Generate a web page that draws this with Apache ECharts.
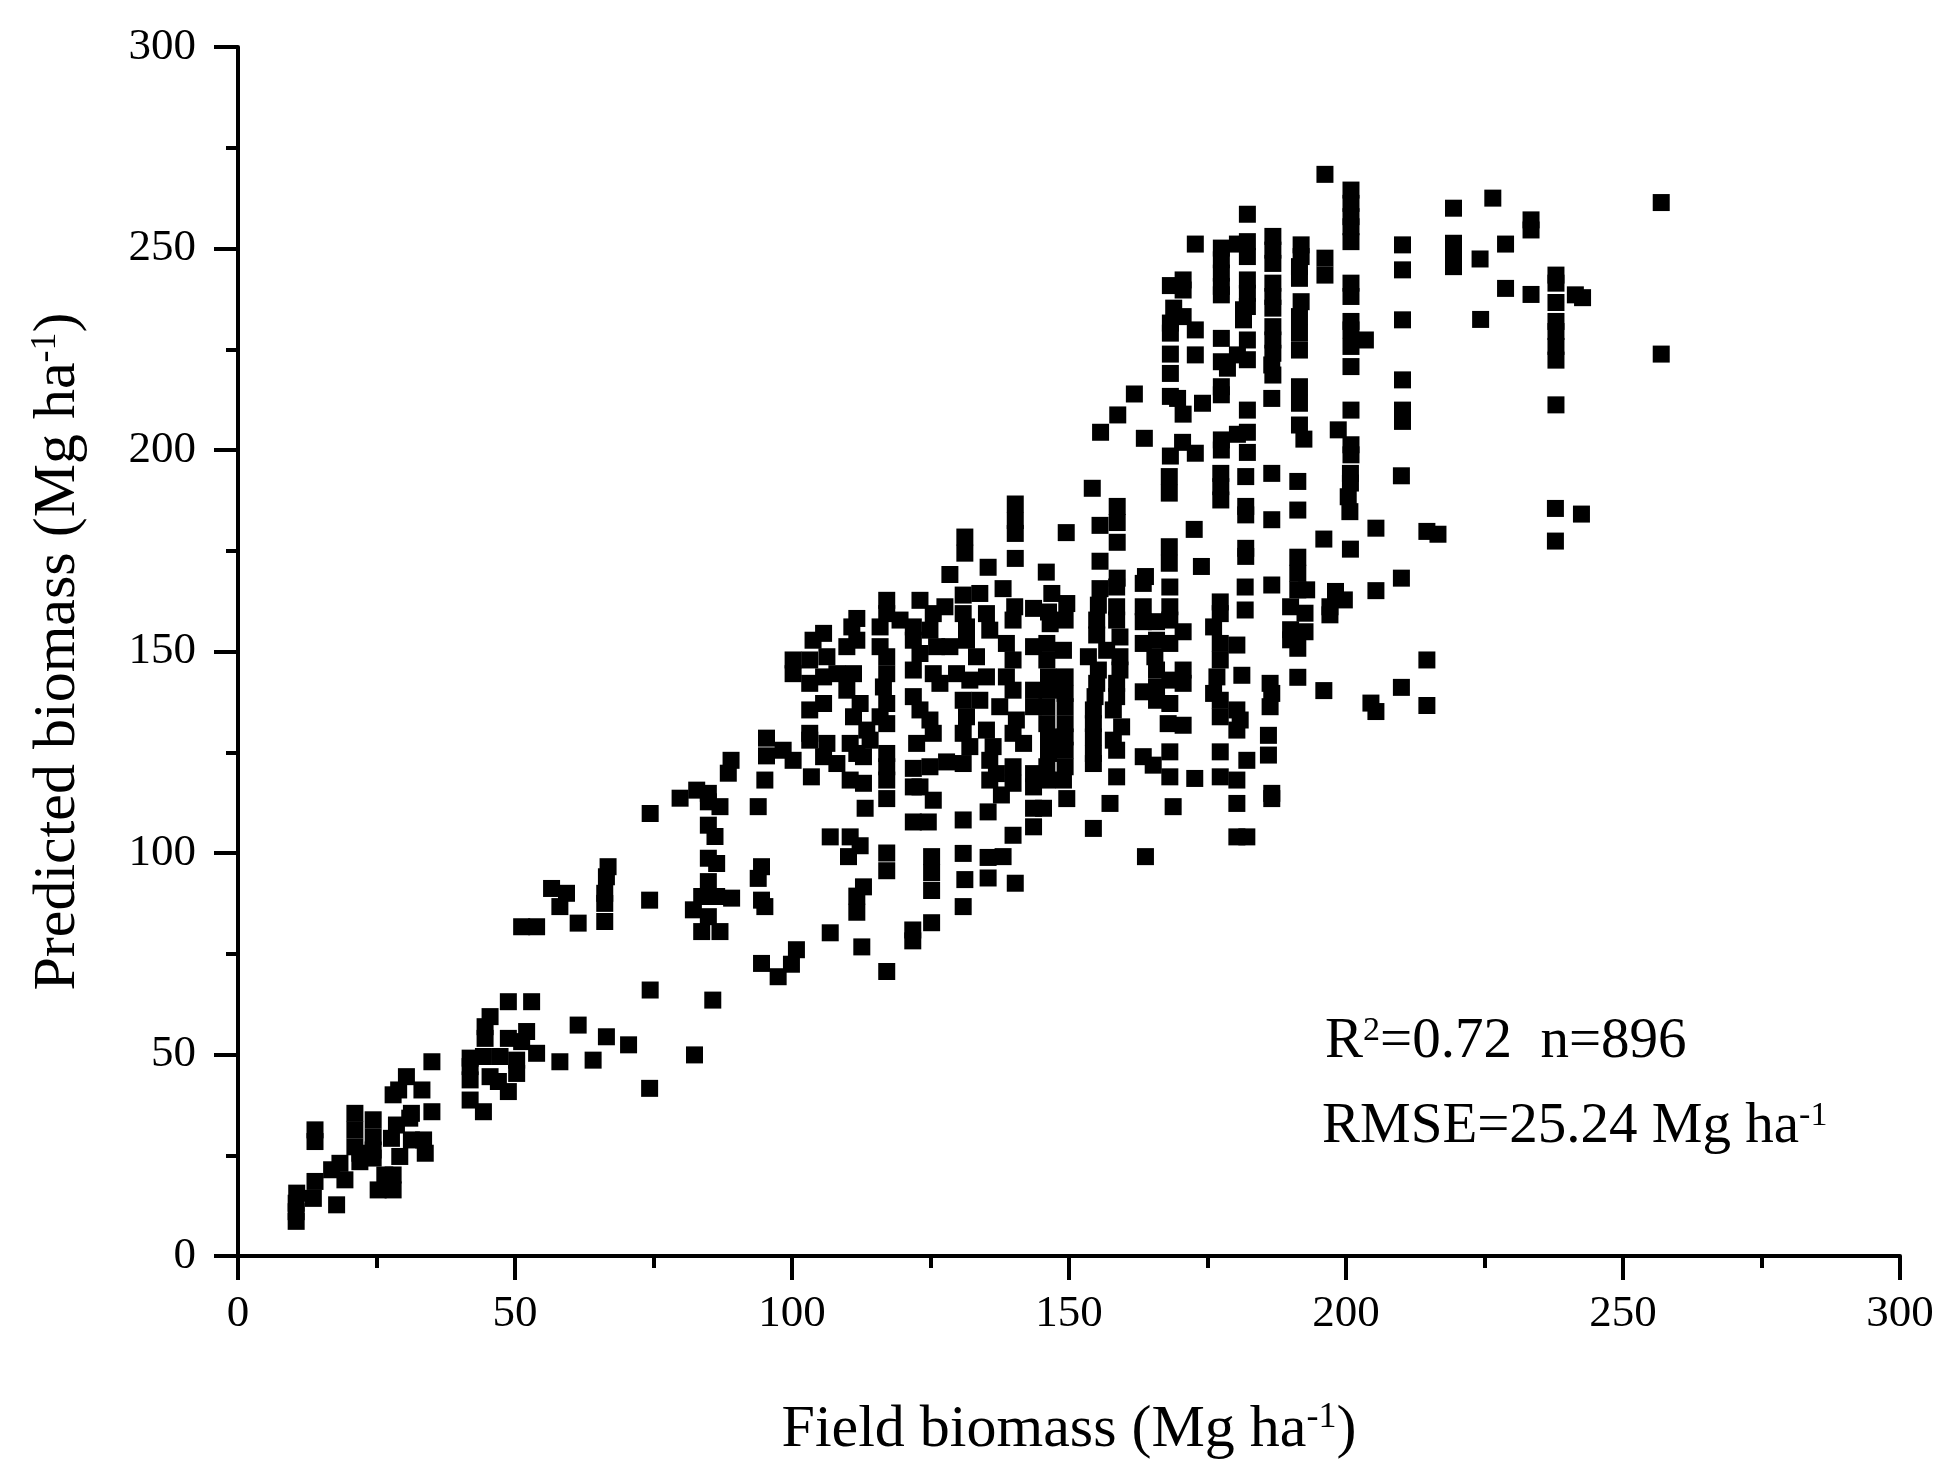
<!DOCTYPE html>
<html>
<head>
<meta charset="utf-8">
<title>Field vs predicted biomass</title>
<script src="https://cdn.jsdelivr.net/npm/echarts@6/dist/echarts.min.js"></script>
<style>
html, body { margin: 0; padding: 0; background: #fff; }
#chart { width: 1959px; height: 1477px; }
</style>
</head>
<body>
<div id="chart"></div>
<script>
// field biomass (x) vs predicted biomass (y), Mg ha-1
var pointsLow = [
  [10.5,8.6],[10.5,11.0],[10.5,13.1],[10.6,15.6],[13.6,14.3],[13.9,18.5],[13.9,31.3],[13.9,28.4],[17.8,12.7],[16.9,21.4],[19.3,18.9],
  [18.4,23.0],[21.1,35.4],[21.1,31.3],[21.1,27.1],[22.0,23.4],[22.0,25.5],[24.4,33.8],[24.4,29.6],[24.4,26.3],[24.4,24.3],
  [25.3,16.4],[26.5,20.1],[28.0,16.4],[28.0,20.1],[27.7,29.2],[28.6,32.5],[29.2,24.7],[28.0,40.0],[30.4,44.5],[31.0,34.2],
  [31.3,35.4],[31.3,28.8],[33.5,28.8],[33.8,25.5],[33.2,41.2],[29.0,41.2],[35.0,48.2],[35.0,35.8],
  [41.9,38.7],[41.9,43.7],[41.9,49.1],[41.9,47.0],[44.3,35.8],[45.5,59.4],[44.6,56.9],[44.6,54.0],[44.3,49.5],[45.5,44.5],
  [47.0,43.3],[47.3,49.5],[48.8,63.1],[48.8,54.0],[48.8,40.8],[50.3,48.6],[50.3,45.3],[52.1,55.7],[51.2,53.2],[53.0,63.1],
  [53.9,50.3],[58.1,48.2],[61.4,57.3],[64.1,48.6],[66.5,54.4],[70.5,52.4],[74.4,66.0],[74.3,41.6],[82.4,49.9],[85.7,63.5],
  [94.5,72.6],[97.5,69.3],
  [51.2,81.7],[53.9,81.7],[56.6,91.2],[59.3,90.0],[58.1,86.7],[61.4,82.6],[66.8,96.6],[66.5,94.1],[66.2,90.0],[66.2,87.5],
  [66.2,83.0],[74.4,109.8],[74.3,88.3],[79.8,113.6],[82.8,115.6],[84.9,114.8],[84.9,112.7],[87.0,111.5],[84.9,106.9],[86.1,104.1],
  [84.9,98.7],[86.4,97.4],[84.9,92.9],[83.7,89.2],[86.4,89.2],[89.1,88.8],[82.2,85.9],[84.9,84.2],[83.7,80.5],[87.0,80.5],
  [88.5,119.8],[93.9,111.5],[95.1,118.1],[94.5,96.6],[93.9,93.7],[94.5,88.3],[95.1,86.7],[89.0,123.0]
];

var pointsMid = [
  [154.2,190.5],[140.3,186.6],[140.3,182.5],[140.3,179.3],[140.3,173.1],[158.7,186.0],[158.7,182.0],[155.6,181.3],[158.7,177.1],[149.5,179.5],
  [131.2,178.4],[131.2,174.4],[135.4,170.9],[128.5,169.1],[145.9,169.7],[155.6,172.4],[158.7,168.2],
  [95.4,128.5],[95.4,124.1],
  [110.2,99.1],[112.3,101.8],[117.1,100.0],[117.1,95.6],[125.2,99.1],[125.2,95.1],[130.9,99.9],[135.4,98.9],[138.1,99.1],[131.2,93.4],
  [135.4,93.8],[140.3,92.5],[112.9,91.6],[111.7,89.3],[111.7,85.3],[125.2,90.7],[130.9,86.7],[125.2,82.7],[106.9,80.2],[121.8,80.9],
  [121.8,78.2],[112.6,76.7],[100.8,76.0],[99.9,72.4],[117.1,70.6]
];

var pointsDenseA = [
  [117.1,162.7],[123.1,162.7],[127.6,161.1],[130.9,164.0],[133.9,164.4],[138.1,165.6],[140.2,161.1],
  [111.7,158.2],[110.8,156.1],[117.1,159.4],[115.9,156.1],[119.5,157.8],[121.9,156.1],[125.5,159.4],[124.9,155.3],[130.9,159.4],
  [131.5,156.1],[135.1,159.4],[135.7,155.3],[139.9,157.8],[143.6,160.7],
  [103.8,152.8],[105.7,154.5],[103.2,147.9],[106.3,148.7],[109.9,151.2],[111.7,152.8],[115.9,151.2],[117.1,148.7],[121.9,152.8],[123.1,149.5],
  [126.1,151.2],[128.5,151.2],[131.5,152.8],[133.3,148.7],[138.7,152.0],[139.9,147.9],[100.2,147.9],[143.6,151.2],
  [100.2,144.5],[103.2,142.1],[105.7,143.7],[108.1,144.5],[111.1,144.5],[109.9,140.4],[117.1,144.5],[116.5,141.2],[121.9,145.4],[125.5,144.5],
  [126.7,142.1],[129.7,144.5],[132.1,142.9],[135.1,143.7],[138.7,143.7],[139.9,140.4],[143.6,140.4],
  [103.2,135.5],[105.7,137.1],[112.3,137.1],[111.1,133.8],[117.1,137.1],[115.9,133.8],[121.9,138.8],[123.1,135.5],[124.9,133.0],[130.9,137.9],
  [131.5,133.8],[133.9,137.9],[137.5,136.3],[140.5,133.0],[143.6,136.3],
  [103.2,129.7],[103.2,128.0],[106.3,127.2],[110.5,127.2],[113.5,130.5],[114.1,128.0],[117.1,132.1],[122.5,127.2],[125.5,129.7],[130.9,129.7],
  [132.1,126.4],[135.1,130.5],[136.3,126.4],[139.9,129.7],[141.8,127.2],
  [98.4,125.5],[100.2,123.0],[105.7,123.9],[108.1,122.2],[111.7,124.7],[112.9,123.9],[117.1,124.7],[117.1,121.4],[121.9,121.0],[124.9,121.4],
  [127.9,122.6],[130.9,122.2],[135.7,123.0],[136.9,119.7],[139.9,121.4],[143.6,119.7],
  [103.5,118.9],[110.5,118.1],[112.9,117.3],[117.1,118.1],[121.9,116.4],[123.1,116.4],[135.7,118.1],[139.9,117.3],[143.6,116.4],
  [117.1,113.5],[125.5,113.1],[137.8,114.4],[113.2,111.1],[143.6,111.1],[135.4,110.2],[121.9,107.7],[124.6,107.7],[130.9,108.2],[143.6,106.5],
  [106.9,104.0],[110.5,104.0],[139.9,104.4]
];

var pointsDenseB = [
  [146.9,164.4],[149.6,161.9],[146.3,159.8],[149.3,157.8],[146.6,156.9],
  [146.0,152.0],[149.0,150.3],[146.0,147.9],[146.3,143.7],[149.3,143.7],[146.3,140.4],[149.3,139.6],[146.0,136.3],[149.3,136.3],[146.0,132.1],
  [149.3,132.1],[146.3,128.8],[149.3,128.8],[146.3,124.7],[149.3,125.5],[146.0,121.4],[149.3,121.4],[146.0,118.1],[149.0,118.1],
  [149.6,113.5],[145.4,111.1],
  [155.6,165.6],[158.6,166.0],[155.3,161.5],[158.6,161.1],[155.0,157.8],[158.6,157.8],[155.0,154.1],[159.2,153.6],[153.5,148.7],[156.8,150.3],
  [159.2,148.7],[155.3,145.4],[159.2,145.4],[155.0,142.1],[158.6,142.1],[154.7,138.8],[158.6,138.8],[154.4,135.5],[158.0,135.5],[154.4,132.1],
  [159.5,131.3],[154.4,128.8],[158.0,128.0],[154.4,124.7],[158.6,125.5],[154.4,122.2],
  [158.6,118.9],[157.4,112.3],[154.4,106.1],
  [163.4,166.9],[168.2,166.0],[163.4,161.1],[168.2,161.1],[163.4,157.4],[165.8,157.4],[168.2,157.8],[170.6,154.9],[163.4,152.0],[165.8,152.8],
  [168.2,152.0],[165.5,148.7],[165.8,145.4],[170.6,145.4],[163.4,140.0],[165.8,141.2],[168.2,142.9],[170.6,142.1],[165.8,137.9],[168.2,137.1],
  [167.9,132.1],[170.6,131.7],[163.4,123.9],[165.2,121.8],[168.2,125.1],[168.2,118.9],[172.7,118.5],[168.8,111.5],
  [177.3,162.3],[177.3,159.4],[176.1,156.1],[177.3,152.0],[177.3,147.9],[176.7,143.7],[176.1,139.6],[177.3,137.9],[177.3,133.8],[180.3,151.6],
  [180.3,135.5],[180.9,133.0],[180.3,130.5],[177.3,125.1],[177.3,118.9],[180.3,118.1],[180.3,112.3],[180.3,104.0],[182.1,104.0],
  [181.8,166.0],[181.8,160.3],[181.2,144.1],[182.1,123.0],
  [186.6,166.5],[186.3,142.1],[186.6,139.6],[186.3,136.3],[186.0,129.2],[186.0,124.3],[186.6,114.8],[186.6,113.5]
];

var pointsRight = [
  [168.1,189.3],[168.1,193.4],[177.4,194.2],[177.4,190.9],[177.4,187.6],[181.9,193.4],[186.6,194.2],[191.3,192.2],[210.0,193.6],[200.8,194.2],
  [200.8,191.8],[200.4,188.4],[200.7,184.7],[181.9,186.0],[181.9,183.9],[186.6,182.7],[191.3,185.1],[172.6,180.3],[196.0,177.9],[200.8,175.4],
  [205.4,180.6],[214.6,179.8],[216.6,179.1],[237.8,185.5],[242.5,184.1],[237.8,177.4],[168.1,176.0],[168.1,171.9],[173.9,171.1],[163.8,168.6],
  [181.9,175.6],[181.9,173.6],[191.3,173.4],[191.3,169.4],[210.0,168.2],
  [205.4,165.1],[191.3,165.3],[192.9,165.3],[198.1,164.9],[199.7,162.8],[197.1,161.1],[197.1,159.1],[190.0,161.1],[192.6,159.5],[190.0,155.4],
  [192.6,154.9],[190.0,152.9],[191.3,150.8],[191.3,143.6],[196.0,140.3],[204.5,137.2],[205.4,135.1],[210.0,141.1],[214.6,147.9],[214.6,136.6],
  [163.8,99.1]
];

var pointsHigh = [
  [196.2,268.4],[200.9,264.5],[200.9,261.2],[200.9,257.9],[200.9,255.4],[200.9,251.7],[226.5,262.5],[219.4,260.0],[256.9,261.4],[182.2,258.5],
  [233.4,257.1],[233.4,254.6],[172.8,251.1],[177.5,250.1],[177.5,247.2],[177.5,243.9],[177.5,240.6],[177.5,238.5],[180.4,251.1],[182.2,251.7],
  [182.2,248.0],[186.8,253.0],[186.8,249.6],[186.8,246.3],[191.9,250.9],[191.9,248.0],[191.6,245.5],[191.6,242.6],[196.2,247.6],[196.2,243.4],
  [210.2,250.9],[210.2,244.7],[219.4,251.3],[219.4,248.0],[219.4,245.5],[228.8,251.1],[224.2,247.4],[237.9,243.4],[237.9,241.4],[228.8,240.1],
  [233.4,238.6],[237.9,236.6],[241.4,238.5],[242.7,237.8],[168.3,240.8],[170.6,242.2],[170.6,239.7],[182.2,242.2],[182.2,238.9],[182.2,235.6],
  [186.8,241.4],[186.8,238.1],[186.8,235.2],[200.9,241.4],[200.9,238.1],[191.9,236.8],[191.6,233.1],[168.9,235.2],[170.6,233.1],[168.3,231.5],
  [168.3,229.0],[172.8,229.8],[181.5,234.8],[181.5,232.3],[177.5,227.7],[182.2,227.3],[186.8,230.6],[186.8,227.3],[186.8,224.0],[191.6,229.0],
  [191.6,224.8],[200.9,231.9],[200.9,229.8],[203.5,227.3],[200.9,225.7],[210.2,232.3],[224.3,232.4],[237.9,231.9],[237.9,229.4],[237.9,225.7],
  [237.9,222.3],[256.9,223.8],[168.3,223.8],[172.8,223.6],[180.4,223.6],[182.2,222.4],[177.5,221.9],[178.6,220.3],[186.6,221.1],[186.8,218.6],
  [200.9,220.7],[168.3,219.0],[210.2,217.4],[161.8,213.9],[168.3,213.3],[169.6,212.8],[174.1,211.6],[177.5,215.7],[177.5,213.7],[186.6,212.8],
  [191.6,215.7],[191.6,211.6],[237.9,211.2],[158.8,208.7],[170.6,208.9],[182.2,209.9],[200.9,209.9],[210.2,209.9],[210.2,207.1],[155.7,204.4],
  [163.6,202.9],[170.5,201.9],[177.5,202.5],[177.5,200.0],[180.4,203.9],[182.2,204.4],[182.2,199.4],[172.8,199.2],[168.3,198.5],[191.6,206.2],
  [192.4,202.7],[198.6,205.0],[200.9,201.3],[200.9,198.8]
];

var xTicks = {min: 0, max: 300, step: 50};
var yTicks = {min: 0, max: 300, step: 50};

var serif = '"Liberation Serif", "Times New Roman", serif';

var myChart = echarts.init(document.getElementById('chart'));

//正文 + 上标
function titleRich(size){
    return {
        t: {fontFamily: serif, fontSize: size, color: '#000', lineHeight: size},
        s: {fontFamily: serif, fontSize: Math.round(size * 0.6), color: '#000', lineHeight: Math.round(size * 0.6), verticalAlign: 'top'}
    };
}

var lineStyle = {color: '#000', width: 4};

var option = {
    animation: false,
    backgroundColor: '#fff',
    grid: {left: 238, right: 59, top: 47, bottom: 221},
    xAxis: {
        type: 'value',
        min: xTicks.min,
        max: xTicks.max,
        interval: xTicks.step,
        name: '{t|Field biomass (Mg ha}{s|-1}{t|)}',
        nameLocation: 'middle',
        nameGap: 144,
        nameTextStyle: {rich: titleRich(60)},
        axisLine: {show: true, onZero: false, lineStyle: lineStyle},
        axisTick: {show: true, inside: false, length: 24, lineStyle: lineStyle},
        minorTick: {show: true, splitNumber: 2, length: 12, lineStyle: lineStyle},
        splitLine: {show: false},
        axisLabel: {fontFamily: serif, fontSize: 45, color: '#000', margin: 36}
    },
    yAxis: {
        type: 'value',
        min: yTicks.min,
        max: yTicks.max,
        interval: yTicks.step,
        name: '{t|Predicted biomass (Mg ha}{s|-1}{t|)}',
        nameLocation: 'middle',
        nameGap: 150,
        nameTextStyle: {rich: titleRich(60)},
        axisLine: {show: true, onZero: false, lineStyle: lineStyle},
        axisTick: {show: true, inside: false, length: 24, lineStyle: lineStyle},
        minorTick: {show: true, splitNumber: 2, length: 12, lineStyle: lineStyle},
        splitLine: {show: false},
        axisLabel: {fontFamily: serif, fontSize: 45, color: '#000', margin: 42}
    },
    series: [pointsLow, pointsMid, pointsDenseA, pointsDenseB, pointsRight, pointsHigh].map(function(pts){
        return {
            type: 'scatter',
            data: pts,
            symbol: 'rect',
            symbolSize: 17,
            itemStyle: {color: '#000', opacity: 1}
        };
    }),
    graphic: [
        {
            type: 'text',
            left: 1325,
            top: 1014,
            style: {
                text: '{t|R}{s|2}{t|=0.72  n=896}',
                rich: titleRich(57)
            }
        },
        {
            type: 'text',
            left: 1322,
            top: 1099,
            style: {
                text: '{t|RMSE=25.24 Mg ha}{s|-1}',
                rich: titleRich(57)
            }
        }
    ]
};

myChart.setOption(option);
</script>
</body>
</html>
